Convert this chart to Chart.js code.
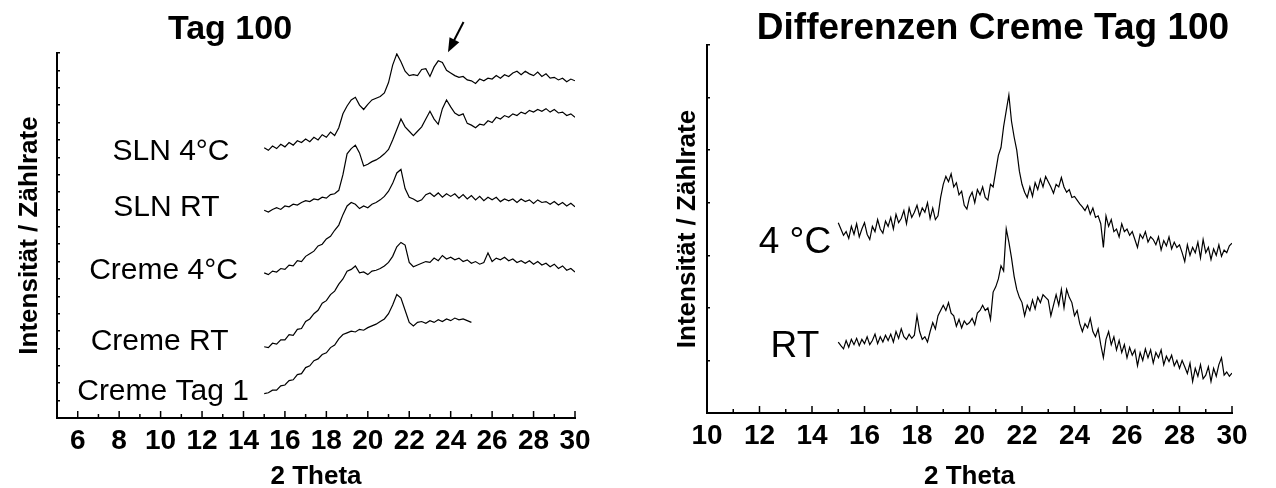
<!DOCTYPE html>
<html>
<head>
<meta charset="utf-8">
<script src="https://cdn.jsdelivr.net/npm/chart.js@4.4.0/dist/chart.umd.min.js"></script>
<style>
  body { margin: 0; background: #fff; }
  .wrap { position: relative; width: 1276px; height: 488px; }
  canvas { position: absolute; top: 0; }
</style>
</head>
<body>
<div class="wrap">
  <canvas id="tag100" width="620" height="488" style="left:0"></canvas>
  <canvas id="diff" width="656" height="488" style="left:620px"></canvas>
</div>
<script>
const FONT = "'Liberation Sans', Arial, sans-serif";

// 2 Theta grid of the Tag 100 scans
const thetaLeft = [
  15.0, 15.2, 15.4, 15.6, 15.8, 16.0, 16.2, 16.4, 16.6, 16.8,
  17.0, 17.2, 17.4, 17.6, 17.8, 18.0, 18.2, 18.4, 18.6, 18.8,
  19.0, 19.2, 19.4, 19.6, 19.8, 20.0, 20.2, 20.4, 20.6, 20.8,
  21.0, 21.2, 21.4, 21.6, 21.8, 22.0, 22.2, 22.4, 22.6, 22.8,
  23.0, 23.2, 23.4, 23.6, 23.8, 24.0, 24.2, 24.4, 24.6, 24.8,
  25.0, 25.2, 25.4, 25.6, 25.8, 26.0, 26.2, 26.4, 26.6, 26.8,
  27.0, 27.2, 27.4, 27.6, 27.8, 28.0, 28.2, 28.4, 28.6, 28.8,
  29.0, 29.2, 29.4, 29.6, 29.8, 30.0
];

// left panel: Tag 100 (stacked, offset counts)
const slnCold = [
  15.55, 15.4, 15.65, 15.5, 15.75, 15.6, 15.85, 15.7, 15.95, 15.85,
  16.05, 15.9, 16.15, 16.0, 16.3, 16.15, 16.45, 16.25, 16.7, 17.5,
  17.95, 18.3, 18.45, 18.0, 17.75, 18.05, 18.3, 18.4, 18.5, 18.7,
  19.3, 20.3, 20.95, 20.5, 19.95, 19.7, 19.75, 19.7, 20.05, 20.1,
  19.65, 20.2, 20.55, 20.45, 20.0, 19.85, 19.7, 19.6, 19.65, 19.45,
  19.4, 19.25, 19.5, 19.4, 19.55, 19.5, 19.7, 19.55, 19.75, 19.65,
  19.85, 19.95, 19.75, 19.95, 19.8, 19.7, 19.9, 19.65, 19.8, 19.55,
  19.6, 19.45, 19.55, 19.35, 19.5, 19.4
];
const slnRT = [
  11.95, 11.85, 12.0, 12.1, 12.0, 12.2, 12.15, 12.3, 12.25, 12.4,
  12.5, 12.45, 12.6, 12.55, 12.7, 12.65, 12.85, 12.9, 13.1, 14.0,
  15.2, 15.5, 15.7, 15.25, 14.5, 14.6, 14.75, 14.85, 15.0, 15.2,
  15.45, 16.0, 16.6, 17.2, 16.75, 16.5, 16.25, 16.5, 16.75, 17.2,
  17.65, 17.2, 16.9, 17.8, 18.3, 17.9, 17.55, 17.4, 17.5, 16.95,
  16.85, 16.7, 16.9, 16.85, 17.1, 17.0, 17.3, 17.2, 17.4, 17.3,
  17.5, 17.4, 17.6, 17.5, 17.7, 17.6, 17.75, 17.65, 17.8, 17.6,
  17.75, 17.55, 17.6, 17.4, 17.5, 17.3
];
const cremeCold = [
  8.35, 8.25, 8.45, 8.4, 8.6, 8.55, 8.8, 8.75, 9.05, 9.0,
  9.3, 9.45, 9.6, 9.9, 10.0, 10.3, 10.45, 10.8, 11.1, 11.7,
  12.2, 12.4, 12.3, 12.05, 12.2, 12.1, 12.3, 12.4, 12.55, 12.75,
  13.05, 13.5, 14.1, 14.3, 13.2, 12.7, 12.6, 12.45, 12.55, 12.85,
  12.95, 12.75, 12.95, 12.7, 12.9, 12.75, 12.9, 12.65, 12.85, 12.6,
  12.8, 12.55, 12.75, 12.5, 12.7, 12.55, 12.7, 12.45, 12.6, 12.5,
  12.6, 12.4, 12.6, 12.45, 12.55, 12.35, 12.55, 12.4, 12.45, 12.3,
  12.45, 12.25, 12.4, 12.2, 12.35, 12.15
];
const cremeRT = [
  4.1, 4.05, 4.3, 4.25, 4.5, 4.5, 4.8, 4.75, 5.1, 5.15,
  5.55, 5.7, 6.0, 6.2, 6.6, 6.75, 7.1, 7.3, 7.7, 8.0,
  8.45, 8.55, 8.75, 8.35, 8.4, 8.25, 8.45, 8.5, 8.6, 8.75,
  8.95, 9.3, 9.85, 10.1, 9.95, 8.95, 8.7, 8.8, 8.9, 9.0,
  8.95, 9.2, 9.05, 9.35, 9.15, 9.25, 9.1, 9.2, 9.0, 9.1,
  8.9, 9.0, 8.85, 8.95, 9.5, 9.0, 9.2, 9.1, 9.25, 9.05,
  9.15, 8.95, 9.05, 8.9, 9.05, 8.85, 9.0, 8.8, 8.9, 8.7,
  8.85, 8.6, 8.75, 8.5, 8.6, 8.4
];
// Creme Tag 1 was only scanned up to 25
const cremeDay1 = [
  1.4, 1.45, 1.6, 1.6, 1.85, 1.9, 2.15, 2.2, 2.5, 2.55,
  2.9, 3.0, 3.3, 3.4, 3.65, 3.75, 4.05, 4.2, 4.55, 4.8,
  4.9, 5.0, 4.95, 5.1, 5.05, 5.2, 5.3, 5.4, 5.55, 5.7,
  6.0, 6.5, 7.1, 6.9, 6.2, 5.5, 5.3, 5.5, 5.55, 5.45,
  5.6, 5.5, 5.65, 5.55, 5.7, 5.6, 5.75, 5.65, 5.7, 5.6,
  5.5
];

// 2 Theta grid of the difference curves
const thetaRight = [
  15.0, 15.1, 15.2, 15.3, 15.4, 15.5, 15.6, 15.7, 15.8, 15.9,
  16.0, 16.1, 16.2, 16.3, 16.4, 16.5, 16.6, 16.7, 16.8, 16.9,
  17.0, 17.1, 17.2, 17.3, 17.4, 17.5, 17.6, 17.7, 17.8, 17.9,
  18.0, 18.1, 18.2, 18.3, 18.4, 18.5, 18.6, 18.7, 18.8, 18.9,
  19.0, 19.1, 19.2, 19.3, 19.4, 19.5, 19.6, 19.7, 19.8, 19.9,
  20.0, 20.1, 20.2, 20.3, 20.4, 20.5, 20.6, 20.7, 20.8, 20.9,
  21.0, 21.1, 21.2, 21.3, 21.4, 21.5, 21.6, 21.7, 21.8, 21.9,
  22.0, 22.1, 22.2, 22.3, 22.4, 22.5, 22.6, 22.7, 22.8, 22.9,
  23.0, 23.1, 23.2, 23.3, 23.4, 23.5, 23.6, 23.7, 23.8, 23.9,
  24.0, 24.1, 24.2, 24.3, 24.4, 24.5, 24.6, 24.7, 24.8, 24.9,
  25.0, 25.1, 25.2, 25.3, 25.4, 25.5, 25.6, 25.7, 25.8, 25.9,
  26.0, 26.1, 26.2, 26.3, 26.4, 26.5, 26.6, 26.7, 26.8, 26.9,
  27.0, 27.1, 27.2, 27.3, 27.4, 27.5, 27.6, 27.7, 27.8, 27.9,
  28.0, 28.1, 28.2, 28.3, 28.4, 28.5, 28.6, 28.7, 28.8, 28.9,
  29.0, 29.1, 29.2, 29.3, 29.4, 29.5, 29.6, 29.7, 29.8, 29.9,
  30.0
];

// right panel: Differenzen Creme Tag 100
const diffCold = [
  3.62, 3.5, 3.38, 3.45, 3.32, 3.55, 3.4, 3.6, 3.35, 3.5,
  3.62, 3.4, 3.3, 3.55, 3.45, 3.68, 3.5, 3.42, 3.65, 3.55,
  3.72, 3.5, 3.78, 3.62, 3.7, 3.85, 3.6, 3.9, 3.72, 3.82,
  3.95, 3.75, 3.9, 3.82, 4.0, 3.7, 3.9, 3.68, 3.75, 4.1,
  4.35, 4.5, 4.4, 4.55, 4.3, 4.38, 4.15, 4.22, 3.95, 3.88,
  4.1, 4.2, 4.0, 4.25, 4.15, 4.3, 4.1, 4.05, 4.35, 4.3,
  4.6, 4.9, 5.05, 5.45, 5.75, 6.05, 5.55, 5.25, 5.0, 4.6,
  4.35, 4.2, 4.1, 4.3, 4.12, 4.38, 4.25, 4.45, 4.3, 4.5,
  4.4, 4.3, 4.18, 4.35, 4.3, 4.48, 4.3, 4.2, 4.25, 4.1,
  4.12, 4.05, 3.98, 3.92, 3.85, 3.95, 3.78, 3.9, 3.72, 3.75,
  3.6, 3.15, 3.75, 3.55, 3.68, 3.45, 3.5, 3.35, 3.6, 3.45,
  3.5, 3.38, 3.45, 3.3, 3.15, 3.4, 3.32, 3.45, 3.25, 3.35,
  3.3, 3.2, 3.35, 3.1, 3.28, 3.18, 3.35, 3.12, 3.25, 3.15,
  3.2, 3.05, 2.88, 3.2, 3.0, 3.15, 3.05, 3.25, 2.95, 3.3,
  3.05, 3.15, 2.92, 3.12, 3.0, 3.2, 2.98, 3.1, 3.05, 3.18,
  3.23
];
const diffRT = [
  1.35, 1.28, 1.22, 1.38, 1.25, 1.4, 1.3, 1.42, 1.28, 1.4,
  1.32, 1.45, 1.3, 1.38, 1.5, 1.32, 1.45, 1.35, 1.48, 1.38,
  1.5, 1.35, 1.55, 1.42, 1.6, 1.45, 1.4, 1.5, 1.42, 1.48,
  1.85, 1.55, 1.4, 1.45, 1.35, 1.55, 1.72, 1.6, 1.85, 1.95,
  2.05, 1.95, 2.1, 1.9, 1.85, 1.65, 1.78, 1.62, 1.75, 1.68,
  1.72, 1.8, 1.68, 1.9, 1.95, 2.05, 1.95, 2.0, 1.78, 2.3,
  2.4, 2.55, 2.8, 2.7, 3.5, 3.25, 2.95, 2.6, 2.35, 2.2,
  2.1, 1.85, 2.05, 1.95, 2.15, 1.98, 2.2, 2.1, 2.25, 2.2,
  2.15, 1.85, 2.05, 2.25, 2.05, 2.35, 2.0, 2.35, 2.2, 2.1,
  1.85, 1.95, 1.7, 1.55, 1.7, 1.62, 1.8, 1.55, 1.45, 1.6,
  1.3, 1.05, 1.4, 1.55, 1.3, 1.45, 1.2, 1.38, 1.15, 1.3,
  1.05, 1.25, 1.1, 1.2, 0.9, 1.15, 1.0, 1.22, 1.05, 1.2,
  0.95, 1.15, 1.05, 1.2, 0.92, 1.08, 0.98, 1.1, 0.9, 1.0,
  0.85, 1.0, 0.88, 0.75, 0.95, 0.6, 0.85, 0.7, 0.92, 0.65,
  0.72, 0.88, 0.6, 0.85, 0.7, 0.92, 1.05, 0.72, 0.78, 0.7,
  0.76
];

const leftNames = ['SLN 4°C', 'SLN RT', 'Creme 4°C', 'Creme RT', 'Creme Tag 1'];
const rightNames = ['4 °C', 'RT'];

function toPoints(xs, ys) {
  return ys.map((y, i) => ({ x: xs[i], y: y }));
}

// draws the inner x ticks, the panel title, curve labels and the arrow
const decor = {
  id: 'decor',
  afterDraw(chart, args, opts) {
    const { ctx, chartArea } = chart;
    const x = chart.scales.x, y = chart.scales.y;
    ctx.save();
    ctx.strokeStyle = '#000';
    ctx.lineWidth = 1.5;
    x.ticks.forEach(t => {
      if (t.value === x.min) return;
      const px = x.getPixelForValue(t.value);
      const len = t.value % 2 === 0 ? 7 : 4;
      ctx.beginPath();
      ctx.moveTo(px, chartArea.bottom);
      ctx.lineTo(px, chartArea.bottom - len);
      ctx.stroke();
    });

    ctx.fillStyle = '#000';
    ctx.textAlign = 'center';
    ctx.textBaseline = 'middle';
    ctx.font = 'bold ' + opts.titleSize + 'px ' + FONT;
    ctx.fillText(opts.title, opts.titleX, opts.titleY);

    ctx.font = opts.labelSize + 'px ' + FONT;
    opts.names.forEach((name, i) => {
      const at = opts.spots[i];
      ctx.fillText(name, x.getPixelForValue(at[0]), y.getPixelForValue(at[1]));
    });

    if (opts.arrow) {
      const x0 = x.getPixelForValue(opts.arrow[0]), y0 = y.getPixelForValue(opts.arrow[1]);
      const x1 = x.getPixelForValue(opts.arrow[2]), y1 = y.getPixelForValue(opts.arrow[3]);
      const a = Math.atan2(y1 - y0, x1 - x0);
      ctx.lineWidth = 2;
      ctx.beginPath();
      ctx.moveTo(x0, y0);
      ctx.lineTo(x1 - 10 * Math.cos(a), y1 - 10 * Math.sin(a));
      ctx.stroke();
      ctx.beginPath();
      ctx.moveTo(x1, y1);
      ctx.lineTo(x1 - 14 * Math.cos(a) + 5.5 * Math.sin(a), y1 - 14 * Math.sin(a) - 5.5 * Math.cos(a));
      ctx.lineTo(x1 - 14 * Math.cos(a) - 5.5 * Math.sin(a), y1 - 14 * Math.sin(a) + 5.5 * Math.cos(a));
      ctx.closePath();
      ctx.fill();
    }
    ctx.restore();
  }
};

function makePanel(id, cfg) {
  return new Chart(document.getElementById(id), {
    type: 'line',
    data: {
      datasets: cfg.series.map(s => ({
        data: toPoints(cfg.theta, s),
        borderColor: '#000',
        borderWidth: 1.2,
        pointRadius: 0,
        tension: 0,
        fill: false
      }))
    },
    options: {
      responsive: false,
      animation: false,
      devicePixelRatio: 1,
      layout: { padding: { top: cfg.top, right: cfg.right, left: 0, bottom: 0 } },
      plugins: {
        legend: { display: false },
        tooltip: { enabled: false },
        decor: cfg.decor
      },
      scales: {
        x: {
          type: 'linear',
          min: cfg.xMin,
          max: 30,
          afterFit: s => { s.height = cfg.xHeight; },
          border: { display: true, color: '#000', width: 2 },
          grid: { drawOnChartArea: false, drawTicks: false },
          ticks: {
            stepSize: 1,
            autoSkip: false,
            maxRotation: 0,
            padding: 6,
            color: '#000',
            font: { family: FONT, size: 28, weight: 'bold' },
            callback: v => (v % 2 === 0 ? v : '')
          },
          title: {
            display: true,
            text: '2 Theta',
            color: '#000',
            font: { family: FONT, size: 26, weight: 'bold', lineHeight: 1 },
            padding: { top: 0, bottom: -2 }
          }
        },
        y: {
          min: 0,
          max: cfg.yMax,
          afterFit: s => { s.width = cfg.yWidth; },
          border: { display: true, color: '#000', width: 2 },
          grid: { drawOnChartArea: false, drawTicks: true, tickLength: -3, color: '#000', lineWidth: 1.5 },
          ticks: { display: false, stepSize: 1 },
          title: {
            display: true,
            text: 'Intensität / Zählrate',
            color: '#000',
            font: { family: FONT, size: 26, weight: 'bold', lineHeight: 1 },
            padding: { top: cfg.yTitlePad, bottom: 0 }
          }
        }
      }
    },
    plugins: [decor]
  });
}

makePanel('tag100', {
  theta: thetaLeft,
  series: [slnCold, slnRT, cremeCold, cremeRT, cremeDay1],
  xMin: 5, yMax: 21,
  top: 53, right: 45, xHeight: 70, yWidth: 57, yTitlePad: 17,
  decor: {
    title: 'Tag 100', titleSize: 34, titleX: 230, titleY: 30,
    labelSize: 30,
    names: leftNames,
    spots: [[10.5, 15.3], [10.28, 12.1], [10.14, 8.5], [9.95, 4.37], [10.12, 1.5]],
    arrow: [24.62, 22.78, 23.87, 21.05]
  }
});

makePanel('diff', {
  theta: thetaRight,
  series: [diffCold, diffRT],
  xMin: 10, yMax: 7,
  top: 45, right: 44, xHeight: 75, yWidth: 87, yTitlePad: 55,
  decor: {
    title: 'Differenzen Creme Tag 100', titleSize: 37, titleX: 373, titleY: 29,
    labelSize: 37,
    names: rightNames,
    spots: [[13.35, 3.23], [13.35, 1.25]],
    arrow: null
  }
});
</script>
</body>
</html>
